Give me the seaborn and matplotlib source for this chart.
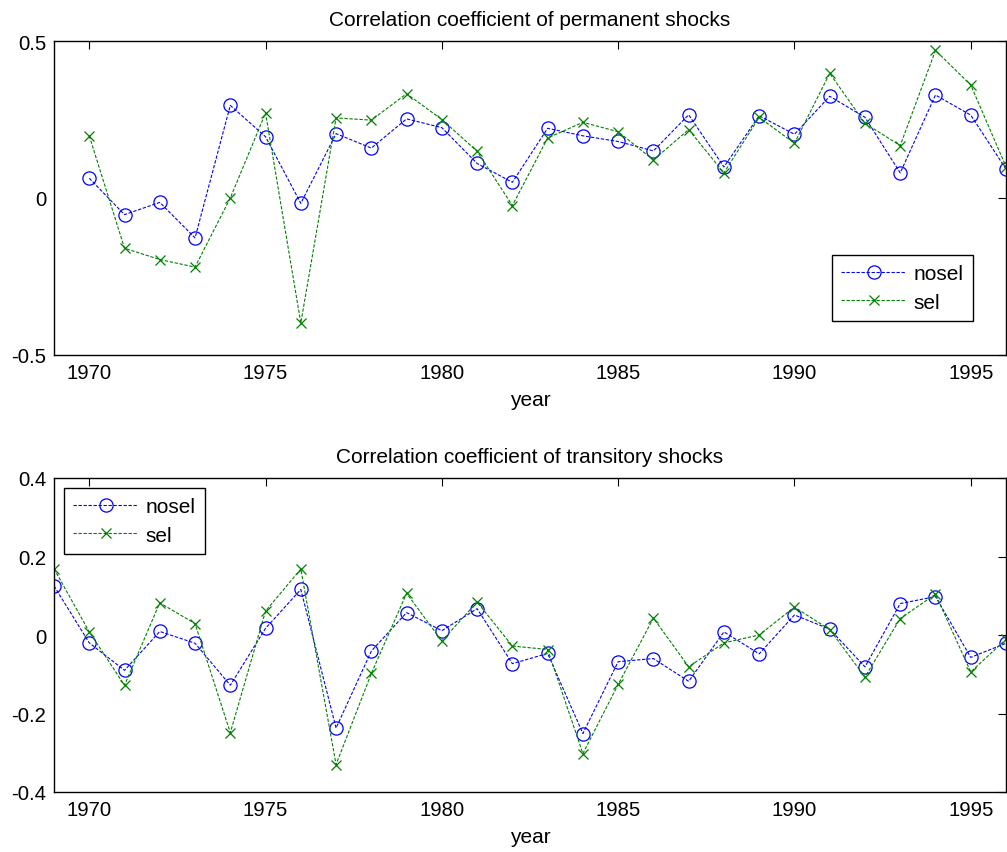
import numpy as np
import pandas as pd
import matplotlib
matplotlib.use("Agg")
import matplotlib.pyplot as plt
import seaborn as sns

years_perm = list(range(1970, 1997))
perm_nosel = [0.063, -0.053, -0.014, -0.127, 0.295, 0.195, -0.017, 0.205, 0.159, 0.252,
              0.224, 0.110, 0.050, 0.222, 0.198, 0.180, 0.150, 0.265, 0.099, 0.262,
              0.203, 0.324, 0.257, 0.080, 0.328, 0.264, 0.092]
perm_sel = [0.198, -0.160, -0.196, -0.220, 0.000, 0.271, -0.398, 0.255, 0.248, 0.332,
            0.250, 0.149, -0.024, 0.191, 0.241, 0.211, 0.121, 0.218, 0.080, 0.257,
            0.174, 0.397, 0.238, 0.167, 0.470, 0.360, 0.100]

years_trans = list(range(1969, 1997))
trans_nosel = [0.125, -0.020, -0.090, 0.009, -0.021, -0.128, 0.017, 0.116, -0.237, -0.041,
               0.057, 0.011, 0.067, -0.073, -0.047, -0.251, -0.068, -0.060, -0.118, 0.008,
               -0.048, 0.051, 0.015, -0.081, 0.080, 0.098, -0.057, -0.021]
trans_sel = [0.169, 0.008, -0.128, 0.082, 0.029, -0.249, 0.061, 0.168, -0.330, -0.098,
             0.106, -0.015, 0.084, -0.028, -0.037, -0.302, -0.126, 0.043, -0.081, -0.020,
             0.000, 0.071, 0.014, -0.107, 0.042, 0.104, -0.094, -0.011]

series_names = ["nosel", "sel"]
titles = ["Correlation coefficient of permanent shocks",
          "Correlation coefficient of transitory shocks"]
xticks = [1970, 1975, 1980, 1985, 1990, 1995]
yticks_top = [-0.5, 0, 0.5]
ytick_labels_top = ["-0.5", "0", "0.5"]
yticks_bot = [-0.4, -0.2, 0, 0.2, 0.4]
ytick_labels_bot = ["-0.4", "-0.2", "0", "0.2", "0.4"]

sns.set_style("white")
plt.rcParams["font.family"] = ["Liberation Sans", "DejaVu Sans"]
plt.rcParams["font.size"] = 15
plt.rcParams["text.color"] = "black"
plt.rcParams["axes.labelcolor"] = "black"

fig = plt.figure(figsize=(10.07, 8.53), dpi=100)
W, H = 1007, 853
ax1 = fig.add_axes([54 / W, 1 - 356 / H, (1006 - 54) / W, (356 - 42) / H])
ax2 = fig.add_axes([54 / W, 1 - 793 / H, (1006 - 54) / W, (793 - 479) / H])

styles = [dict(color=(0, 0, 1), marker="o", markersize=9.5, markerfacecolor="none",
               markeredgecolor=(0, 0, 1), markeredgewidth=0.9),
          dict(color=(0, 0.5, 0), marker="x", markersize=7, markeredgewidth=0.9,
               markeredgecolor=(0, 0.5, 0))]

def draw(ax, years, s1, s2, title, yticks, ylabels, ylim, bbox):
    for name, vals, st in zip(series_names, [s1, s2], styles):
        df = pd.DataFrame({"year": years, "value": vals})
        sns.lineplot(data=df, x="year", y="value", ax=ax, label=name,
                     linestyle=(0, (3, 1.5)), linewidth=0.8, **st)
    ax.set_xlim(1969, 1996)
    ax.set_ylim(*ylim)
    ax.set_xticks(xticks)
    ax.set_xticklabels([str(t) for t in xticks])
    ax.set_yticks(yticks)
    ax.set_yticklabels(ylabels)
    ax.tick_params(direction="in", top=True, right=True, length=6, width=0.8,
                   labelsize=14.6, pad=5.5, colors="black")
    for sp in ax.spines.values():
        sp.set_visible(True)
        sp.set_color("black")
        sp.set_linewidth(1.0)
    ax.set_title(title, fontsize=15, pad=11.5, color="black")
    ax.set_xlabel("year", fontsize=15, labelpad=6, color="black")
    ax.set_ylabel("")
    leg = ax.legend(loc="upper left", bbox_to_anchor=bbox, fontsize=15, frameon=True,
                    fancybox=False, edgecolor="black", framealpha=1,
                    handlelength=3.1, borderpad=0.45, labelspacing=0.45,
                    handletextpad=0.35, borderaxespad=0)
    leg.get_frame().set_linewidth(1.0)
    for t in leg.get_texts():
        t.set_color("black")

draw(ax1, years_perm, perm_nosel, perm_sel, titles[0], yticks_top, ytick_labels_top,
     (-0.5, 0.5), ((832 - 54) / (1006 - 54), 1 - (256 - 42) / (356 - 42)))
draw(ax2, years_trans, trans_nosel, trans_sel, titles[1], yticks_bot, ytick_labels_bot,
     (-0.4, 0.4), ((64 - 54) / (1006 - 54), 1 - (489 - 479) / (793 - 479)))

fig.savefig("out.png", dpi=100)
